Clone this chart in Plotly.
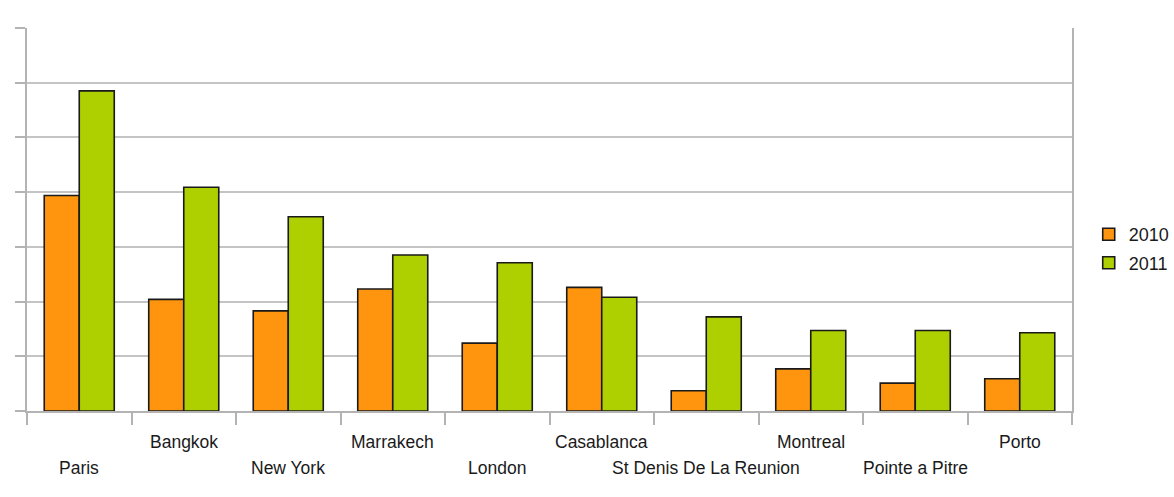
import plotly.graph_objects as go

cities = ["Paris", "Bangkok", "New York", "Marrakech", "London", "Casablanca",
          "St Denis De La Reunion", "Montreal", "Pointe a Pitre", "Porto"]
v2010 = [3.94, 2.04, 1.83, 2.23, 1.24, 2.26, 0.37, 0.77, 0.51, 0.59]
v2011 = [5.85, 4.09, 3.55, 2.85, 2.71, 2.08, 1.72, 1.47, 1.47, 1.43]
series_names = ["2010", "2011"]
colors = ["#ff950e", "#aecf00"]

fig = go.Figure()
for name, vals, col in zip(series_names, [v2010, v2011], colors):
    fig.add_trace(go.Bar(
        x=cities, y=vals, name=name, legendgroup=name,
        marker=dict(color=col, line=dict(color="#1a1a1a", width=1.6)),
    ))

font_family = "Liberation Sans, Arial, sans-serif"

# staggered category labels
for i, c in enumerate(cities):
    fig.add_annotation(
        x=c, y=0, xref="x", yref="paper",
        text=c, showarrow=False,
        yanchor="middle", xanchor="center",
        yshift=-31 if i % 2 == 1 else -57,
        font=dict(family=font_family, size=17.5, color="#1a1a1a"),
    )

fig.update_layout(
    width=1174, height=497,
    margin=dict(l=27, r=102, t=28, b=86, autoexpand=False),
    paper_bgcolor="white", plot_bgcolor="white",
    barmode="group", bargap=0.33, bargroupgap=0,
    showlegend=True,
    legend=dict(
        x=1.016, xanchor="left", y=0.424, yanchor="middle",
        font=dict(family=font_family, size=18, color="#1a1a1a"),
        traceorder="grouped", tracegroupgap=2,
        bgcolor="rgba(0,0,0,0)",
    ),
    xaxis=dict(
        type="category", showticklabels=False, automargin=False,
        ticks="outside", tickson="boundaries", ticklen=12,
        tickcolor="#b3b3b3", tickwidth=1.5,
        showline=True, linecolor="#b3b3b3", linewidth=1.5,
        showgrid=False, zeroline=False,
    ),
    yaxis=dict(
        range=[0, 7], dtick=1, showticklabels=False, automargin=False,
        ticks="outside", ticklen=10, tickcolor="#b3b3b3", tickwidth=1.5,
        showline=True, mirror=True, linecolor="#b3b3b3", linewidth=1.5,
        showgrid=True, gridcolor="#c4c4c4", gridwidth=1.5,
        zeroline=False,
    ),
)

fig.write_html(
    "out.html",
    config={"displayModeBar": False},
    post_script="document.body.style.margin='0';document.body.style.overflow='hidden';",
)
